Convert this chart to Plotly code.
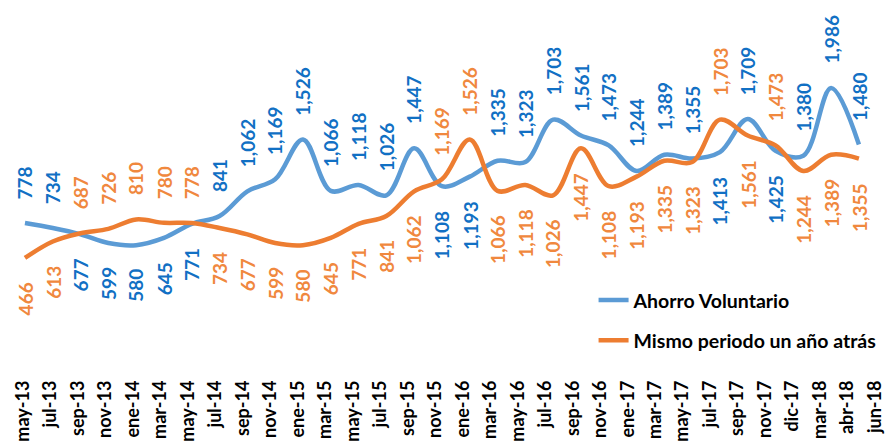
import numpy as np
import plotly.graph_objects as go

tick_labels = ["may-13", "jul-13", "sep-13", "nov-13", "ene-14", "mar-14", "may-14", "jul-14",
               "sep-14", "nov-14", "ene-15", "mar-15", "may-15", "jul-15", "sep-15", "nov-15",
               "ene-16", "mar-16", "may-16", "jul-16", "sep-16", "nov-16", "ene-17", "mar-17",
               "may-17", "jul-17", "sep-17", "nov-17", "dic-17", "mar-18", "abr-18", "jun-18"]

ahorro = [778, 734, 677, 599, 580, 645, 771, 841, 1062, 1169, 1526, 1066, 1118, 1026, 1447, 1108,
          1193, 1335, 1323, 1703, 1561, 1473, 1244, 1389, 1355, 1413, 1709, 1425, 1380, 1986, 1480]

mismo = [466, 613, 687, 726, 810, 780, 778, 734, 677, 599, 580, 645, 771, 841, 1062, 1169,
         1526, 1066, 1118, 1026, 1447, 1108, 1193, 1335, 1323, 1703, 1561, 1473, 1244, 1389, 1355]

# label placement: 1 = above, -1 = below
ahorro_pos = [1, 1, -1, -1, -1, -1, -1, 1, 1, 1, 1, 1, 1, 1, 1, -1,
              -1, 1, 1, 1, 1, 1, 1, 1, 1, -1, 1, -1, 1, 1, 1]
mismo_pos = [-1, -1, 1, 1, 1, 1, 1, -1, -1, -1, -1, -1, -1, -1, -1, 1,
             1, -1, -1, -1, -1, -1, -1, -1, -1, 1, -1, 1, -1, -1, -1]

x = list(range(len(ahorro)))
tickvals = np.linspace(-0.07, 30.58, len(tick_labels))

BLUE_LINE = "#5B9BD5"
ORANGE_LINE = "#ED7D31"
BLUE_TXT = "#1170C4"
ORANGE_TXT = "#F0883E"
FONT = "Lato"

fig = go.Figure()
fig.add_trace(go.Scatter(x=x, y=ahorro, mode="lines", name="Ahorro Voluntario",
                         line=dict(color=BLUE_LINE, width=4.5, shape="spline", smoothing=1.0),
                         legendgroup="a"))
fig.add_trace(go.Scatter(x=x, y=mismo, mode="lines", name="Mismo periodo un año atrás",
                         line=dict(color=ORANGE_LINE, width=4.5, shape="spline", smoothing=1.0),
                         legendgroup="b"))

annotations = []
for vals, pos, col in [(ahorro, ahorro_pos, BLUE_TXT), (mismo, mismo_pos, ORANGE_TXT)]:
    for i, (v, p) in enumerate(zip(vals, pos)):
        annotations.append(dict(
            x=i, y=v, xref="x", yref="y", text=f"{v:,}", showarrow=False, textangle=-90,
            yanchor="bottom" if p > 0 else "top", xanchor="center",
            yshift=22 if p > 0 else -22,
            font=dict(family=FONT, size=19, color=col, weight="bold")))

fig.update_layout(
    width=894, height=445,
    margin=dict(l=0, r=0, t=10, b=77),
    paper_bgcolor="white", plot_bgcolor="white",
    showlegend=True,
    legend=dict(x=0.655, y=0.266, xanchor="left", yanchor="top",
                bgcolor="rgba(0,0,0,0)", tracegroupgap=12,
                font=dict(family=FONT, size=19.5, color="black", weight="bold")),
    xaxis=dict(range=[-0.61, 31.55], tickmode="array", tickvals=tickvals, ticktext=tick_labels,
               tickangle=-90, showgrid=False, zeroline=False, showline=False, ticks="",
               automargin=False,
               tickfont=dict(family=FONT, size=18, color="black", weight="bold")),
    yaxis=dict(range=[-590, 2612], visible=False, showgrid=False, zeroline=False),
    annotations=annotations,
)

fig.write_html("out.html")
